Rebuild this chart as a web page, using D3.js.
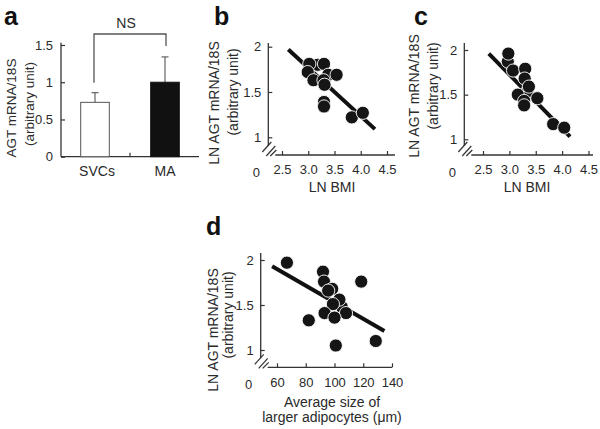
<!DOCTYPE html>
<html><head><meta charset="utf-8">
<script src="https://cdn.jsdelivr.net/npm/d3@7"></script>
<style>
html,body{margin:0;padding:0;background:#fff;}
svg{display:block;font-family:"Liberation Sans",Arial,sans-serif;}
</style></head>
<body>
<svg id="chart" width="600" height="429"></svg>
<script>
// ---------- data ----------
const barCategories = ["SVCs", "MA"];
const barValues = [0.73, 1.0];
const barErrors = [0.13, 0.34];
const barTicks = [0, 0.5, 1, 1.5];

const bmiTicks = [2.5, 3.0, 3.5, 4.0, 4.5];
const lnTicks = [1, 1.5, 2];

const bX = [3.18, 3.02, 3.30, 2.99, 3.38, 3.54, 3.10, 3.29, 3.31, 3.30, 3.30, 3.83, 4.04];
const bY = [1.80, 1.81, 1.81, 1.72, 1.69, 1.69, 1.63, 1.63, 1.58, 1.39, 1.34, 1.22, 1.27];
const bFitX = [2.62, 4.27];
const bFitY = [1.97, 1.09];

const cX = [2.97, 2.98, 3.07, 3.30, 3.29, 3.33, 3.37, 3.16, 3.53, 3.28, 3.28, 3.83, 4.04];
const cY = [1.87, 1.96, 1.77, 1.79, 1.68, 1.53, 1.59, 1.50, 1.46, 1.43, 1.38, 1.17, 1.13];
const cFitX = [2.61, 4.15];
const cFitY = [1.96, 1.03];

const sizeTicks = [60, 80, 100, 120, 140];
const dX = [66.9, 92.0, 92.7, 98.4, 95.6, 105, 103.4, 98.9, 93.1, 108, 100, 82.1, 118.6, 128.7, 100.9];
const dY = [1.97, 1.87, 1.76, 1.68, 1.66, 1.48, 1.56, 1.51, 1.41, 1.41, 1.36, 1.33, 1.76, 1.10, 1.05];
const dFitX = [56.6, 134.7];
const dFitY = [1.93, 1.21];

// ---------- drawing ----------
const svg = d3.select("#chart");
const AX = "#333", TXT = "#2a2a2a";

function panelLabel(t, x, y) {
  svg.append("text").attr("x", x).attr("y", y).attr("font-size", 25)
    .attr("font-weight", "bold").attr("fill", "#111").text(t);
}
function vText(t, cx, cy, size) {
  svg.append("text").attr("transform", `translate(${cx},${cy}) rotate(-90)`)
    .attr("text-anchor", "middle").attr("dominant-baseline", "central")
    .attr("font-size", size).attr("fill", TXT).text(t);
}
function line(x1, y1, x2, y2, w, c) {
  svg.append("line").attr("x1", x1).attr("y1", y1).attr("x2", x2).attr("y2", y2)
    .attr("stroke", c || AX).attr("stroke-width", w || 1.3);
}
function styleAxis(g) {
  g.select(".domain").remove();
  g.selectAll(".tick line").attr("stroke", AX).attr("stroke-width", 1.2);
  g.selectAll(".tick text").attr("fill", TXT).attr("font-size", 13)
    .attr("font-family", "Liberation Sans, Arial, sans-serif");
}

// ----- panel a -----
panelLabel("a", 4, 25);
const ya = d3.scaleLinear().domain([0, 1.5]).range([156.7, 45]);
const xa = d3.scalePoint().domain(barCategories).range([95, 165]);
const barW = 28.6;
const gya = svg.append("g").attr("transform", "translate(61,0)")
  .call(d3.axisLeft(ya).tickValues(barTicks).tickSizeInner(-4).tickSizeOuter(0)
    .tickPadding(8).tickFormat(d3.format("")));
styleAxis(gya);
line(61, ya(1.53), 61, ya(0));
line(61, ya(0), 199, ya(0));
line((xa("SVCs") + xa("MA")) / 2, ya(0), (xa("SVCs") + xa("MA")) / 2, ya(0) - 4, 1.2);
// error bars
barCategories.forEach((c, i) => {
  const cx = xa(c);
  line(cx, ya(barValues[i]), cx, ya(barValues[i] + barErrors[i]), 1.1, "#555");
  line(cx - 3.5, ya(barValues[i] + barErrors[i]), cx + 3.5, ya(barValues[i] + barErrors[i]), 1.1, "#555");
});
svg.selectAll("rect.bar").data(barCategories).join("rect").attr("class", "bar")
  .attr("x", d => xa(d) - barW / 2).attr("width", barW)
  .attr("y", (d, i) => ya(barValues[i])).attr("height", (d, i) => ya(0) - ya(barValues[i]))
  .attr("fill", (d, i) => i === 0 ? "#fff" : "#111")
  .attr("stroke", (d, i) => i === 0 ? "#555" : "#111").attr("stroke-width", 1);
svg.selectAll("text.cat").data(barCategories).join("text").attr("class", "cat")
  .attr("x", (d, i) => xa(d) + (i === 0 ? 2 : 0)).attr("y", 176).attr("text-anchor", "middle")
  .attr("font-size", 14).attr("fill", TXT).text(d => d);
// NS bracket
const bracketTop = ya(1.648);
svg.append("path")
  .attr("d", `M${xa("SVCs") - 1},${ya(0.994)} V${bracketTop} H${xa("MA") + 1} V${ya(1.487)}`)
  .attr("fill", "none").attr("stroke", "#555").attr("stroke-width", 1.3);
svg.append("text").attr("x", 126).attr("y", 28).attr("text-anchor", "middle")
  .attr("font-size", 14).attr("fill", TXT).text("NS");
vText("AGT mRNA/18S", 11, 108, 13.5);
vText("(arbitrary unit)", 29.5, 104, 13.5);

// ----- scatter panels -----
function scatterPanel(o) {
  const x = d3.scaleLinear().domain(o.xDom).range(o.xRange);
  const y = d3.scaleLinear().domain([1, 2]).range(o.yRange);
  const ax = o.axisX, ay = o.axisY;
  const gy = svg.append("g").attr("transform", `translate(${ax},0)`)
    .call(d3.axisLeft(y).tickValues(lnTicks).tickSizeInner(-4).tickSizeOuter(0)
      .tickPadding(7).tickFormat(d3.format("")));
  styleAxis(gy);
  const gx = svg.append("g").attr("transform", `translate(0,${ay})`)
    .call(d3.axisBottom(x).tickValues(o.xTicks).tickSizeInner(-4).tickSizeOuter(0)
      .tickPadding(10).tickFormat(o.fmt));
  styleAxis(gx);
  // axis lines with break
  line(ax, o.yTop, ax, ay - 9);
  line(ax + 7, ay, o.xEnd, ay);
  line(ax - 6, ay - 3, ax + 3, ay - 13, 1.2);
  line(ax - 2, ay + 1, ax + 7, ay - 9, 1.2);
  line(ax + 2, ay + 1, ax + 8, ay - 5, 1.2);
  svg.append("text").attr("x", ax - 12).attr("y", ay + 22).attr("text-anchor", "middle")
    .attr("font-size", 13).attr("fill", TXT).text("0");
  // fit line
  svg.append("line").attr("x1", x(o.fitX[0])).attr("y1", y(o.fitY[0]))
    .attr("x2", x(o.fitX[1])).attr("y2", y(o.fitY[1]))
    .attr("stroke", "#111").attr("stroke-width", 4);
  // points
  svg.append("g").selectAll("circle").data(o.px).join("circle")
    .attr("cx", d => x(d)).attr("cy", (d, i) => y(o.py[i])).attr("r", 6.6)
    .attr("fill", "#151515").attr("stroke", "#fff").attr("stroke-width", 0.9);
}

panelLabel("b", 214, 25);
scatterPanel({xDom: [2.5, 4.5], xRange: [282, 387], yRange: [137.3, 46.7],
  axisX: 268.3, axisY: 155, yTop: 43, xEnd: 395, xTicks: bmiTicks,
  fmt: d3.format(".1f"), px: bX, py: bY, fitX: bFitX, fitY: bFitY});
svg.append("text").attr("x", 332).attr("y", 192).attr("text-anchor", "middle")
  .attr("font-size", 14).attr("fill", TXT).text("LN BMI");
vText("LN AGT mRNA/18S", 214, 103, 14);
vText("(arbitrary unit)", 233, 92, 14);

panelLabel("c", 414, 25);
scatterPanel({xDom: [2.5, 4.5], xRange: [483, 588.5], yRange: [139.3, 50],
  axisX: 464.3, axisY: 155, yTop: 43, xEnd: 593, xTicks: bmiTicks,
  fmt: d3.format(".1f"), px: cX, py: cY, fitX: cFitX, fitY: cFitY});
svg.append("text").attr("x", 527).attr("y", 192).attr("text-anchor", "middle")
  .attr("font-size", 14).attr("fill", TXT).text("LN BMI");
vText("LN AGT mRNA/18S", 414, 96, 14);
vText("(arbitrary unit)", 433, 86, 14);

panelLabel("d", 206, 235);
scatterPanel({xDom: [60, 140], xRange: [277, 392], yRange: [350, 260],
  axisX: 260.7, axisY: 367.3, yTop: 253, xEnd: 392, xTicks: sizeTicks,
  fmt: d3.format(""), px: dX, py: dY, fitX: dFitX, fitY: dFitY});
svg.append("text").attr("x", 332).attr("y", 407).attr("text-anchor", "middle")
  .attr("font-size", 14).attr("fill", TXT).text("Average size of");
svg.append("text").attr("x", 332).attr("y", 422).attr("text-anchor", "middle")
  .attr("font-size", 14).attr("fill", TXT).text("larger adipocytes (μm)");
vText("LN AGT mRNA/18S", 212.5, 330, 14);
vText("(arbitrary unit)", 228, 315, 14);
</script>
</body></html>
